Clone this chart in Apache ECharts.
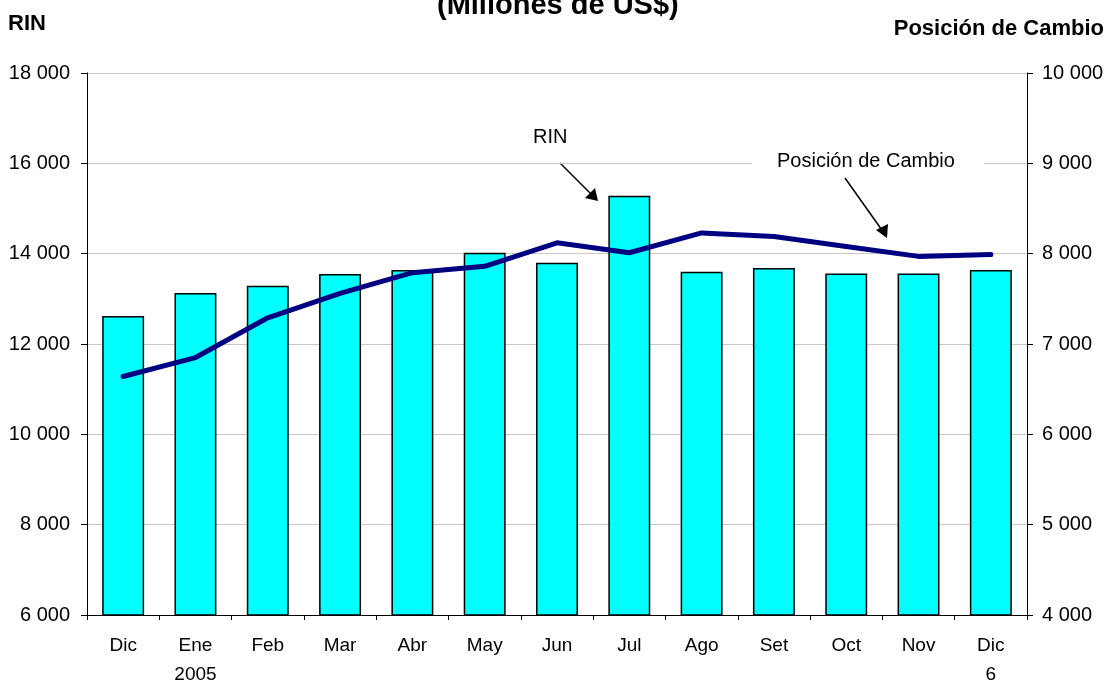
<!DOCTYPE html>
<html>
<head>
    <meta charset="utf-8">
    <title>RIN y Posición de Cambio</title>
    <script src="https://cdn.jsdelivr.net/npm/echarts@6/dist/echarts.min.js"></script>
    <style>
        html, body { margin: 0; padding: 0; background: #fff; }
        #main { width: 1114px; height: 681px; }
    </style>
</head>
<body>
<div id="main"></div>
<script type="text/javascript">
    // datos
    var meses = ['Dic', 'Ene\n2005', 'Feb', 'Mar', 'Abr', 'May', 'Jun', 'Jul', 'Ago', 'Set', 'Oct', 'Nov', 'Dic\n6'];
    var rin = [12620, 13130, 13290, 13550, 13640, 14020, 13800, 15280, 13600, 13680, 13560, 13560, 13640];
    var posicionCambio = [6640, 6850, 7290, 7560, 7790, 7860, 8120, 8010, 8230, 8190, 8080, 7970, 7990];

    var fuente = '"Liberation Sans", Arial, sans-serif';

    // 18000 -> "18 000"
    function miles(v) {
        return String(v).replace(/\B(?=(\d{3})+(?!\d))/g, ' ');
    }

    var myChart = echarts.init(document.getElementById('main'));

    var option = {
        backgroundColor: '#ffffff',
        animation: false,
        textStyle: { fontFamily: fuente },
        title: {
            text: '(Millones de US$)',
            left: 432,
            top: -14,
            textStyle: { fontSize: 29, fontWeight: 'bold', color: '#000', fontFamily: fuente }
        },
        grid: { left: 87, right: 87, top: 73, bottom: 66, containLabel: false, outerBoundsMode: 'none' },
        xAxis: {
            type: 'category',
            data: meses,
            boundaryGap: true,
            axisLine: { lineStyle: { color: '#000', width: 1 } },
            axisTick: { show: true, length: 5, lineStyle: { color: '#000' } },
            axisLabel: { color: '#000', fontSize: 19, lineHeight: 29, margin: 16, interval: 0 }
        },
        yAxis: [
            {
                type: 'value',
                min: 6000,
                max: 18000,
                interval: 2000,
                axisLine: { show: true, lineStyle: { color: '#000' } },
                axisTick: { show: true, length: 6, lineStyle: { color: '#000' } },
                axisLabel: { color: '#000', fontSize: 20, margin: 17, formatter: miles },
                splitLine: { show: true, lineStyle: { color: '#c8c8c8', width: 1 } }
            },
            {
                type: 'value',
                min: 4000,
                max: 10000,
                interval: 1000,
                axisLine: { show: true, lineStyle: { color: '#000' } },
                axisTick: { show: true, length: 6, lineStyle: { color: '#000' } },
                axisLabel: { color: '#000', fontSize: 20, margin: 15, formatter: miles },
                splitLine: { show: false }
            }
        ],
        series: [
            {
                name: 'RIN',
                type: 'bar',
                data: rin,
                yAxisIndex: 0,
                barWidth: '58%',
                itemStyle: { color: '#00ffff', borderColor: '#000', borderWidth: 1.5 }
            },
            {
                name: 'Posición de Cambio',
                type: 'line',
                data: posicionCambio,
                yAxisIndex: 1,
                symbol: 'none',
                lineStyle: { color: '#000080', width: 5, cap: 'round', join: 'round' },
                z: 5
            }
        ],
        graphic: [
            // titulos de los ejes
            { type: 'text', left: 8, top: 13, style: { text: 'RIN', fontSize: 22, fontWeight: 'bold', fill: '#000', fontFamily: fuente } },
            { type: 'text', right: 10, top: 18, style: { text: 'Posición de Cambio', fontSize: 22, fontWeight: 'bold', fill: '#000', fontFamily: fuente } },
            // etiqueta RIN con flecha
            { type: 'text', left: 533, top: 127, style: { text: 'RIN', fontSize: 20, fill: '#000', fontFamily: fuente } },
            { type: 'line', shape: { x1: 560, y1: 163, x2: 594, y2: 197 }, style: { stroke: '#000', lineWidth: 1.5 } },
            { type: 'polygon', shape: { points: [[598, 201], [585, 198], [595, 188]] }, style: { fill: '#000' } },
            // etiqueta Posicion de Cambio con flecha
            { type: 'rect', shape: { x: 752, y: 150, width: 232, height: 26 }, style: { fill: '#fff' }, z: 10 },
            { type: 'text', left: 777, top: 151, z: 11, style: { text: 'Posición de Cambio', fontSize: 20, fill: '#000', fontFamily: fuente } },
            { type: 'line', shape: { x1: 845, y1: 178, x2: 884, y2: 233 }, style: { stroke: '#000', lineWidth: 1.5 } },
            { type: 'polygon', shape: { points: [[887, 238], [876, 230], [888, 224]] }, style: { fill: '#000' } }
        ]
    };

    myChart.setOption(option);
</script>
</body>
</html>
